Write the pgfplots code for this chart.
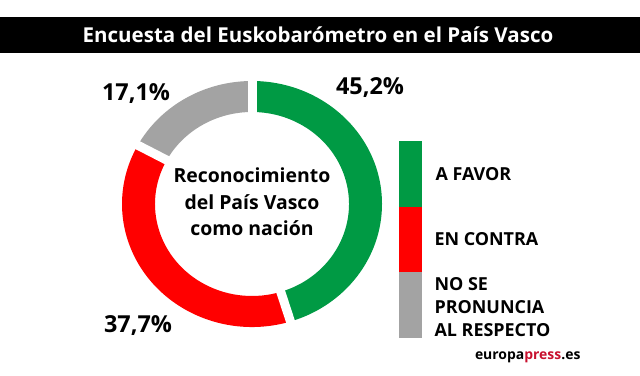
\documentclass[border=0pt]{standalone}
\usepackage{pgfplots}
\pgfplotsset{compat=1.18}
\usepackage{pgfplotstable}
\usepackage{fontspec}
\setmainfont{Open Sans}

\definecolor{cgreen}{RGB}{0,154,68}
\definecolor{cred}{RGB}{255,0,0}
\definecolor{cgray}{RGB}{163,163,163}
\definecolor{logored}{RGB}{200,16,46}

\pgfplotstableread{
label value
favor 45.2
contra 37.7
nose 17.1
}\datatable

\begin{document}
\begin{tikzpicture}
\pgfplotstablegetelem{0}{value}\of\datatable \let\vA\pgfplotsretval
\pgfplotstablegetelem{1}{value}\of\datatable \let\vB\pgfplotsretval
\pgfplotstablegetelem{2}{value}\of\datatable \let\vC\pgfplotsretval
\pgfmathsetmacro{\aA}{90-3.6*\vA}
\pgfmathsetmacro{\aB}{\aA-3.6*\vB}
\pgfmathsetmacro{\aC}{\aB-3.6*\vC}
\begin{axis}[width=640bp, height=375bp, scale only axis,
  xmin=0, xmax=640, ymin=0, ymax=375, hide axis, clip=false]
\path (axis cs:0,0) rectangle (axis cs:640,375);
\fill[black] (axis cs:0,322) rectangle (axis cs:640,358);
\node[white, font=\bfseries\fontsize{20.6}{24}\selectfont] at (axis cs:318,340) {Encuesta del Euskobarómetro en el País Vasco};
% donut
\fill[cgreen] (axis cs:{252+130*cos(90)},{171+123*sin(90)}) arc[start angle=90,end angle=\aA,x radius=130bp,y radius=123bp] -- (axis cs:{252+97*cos(\aA)},{171+92*sin(\aA)}) arc[start angle=\aA,end angle=90,x radius=97bp,y radius=92bp] -- cycle;
\fill[cred] (axis cs:{252+130*cos(\aA)},{171+123*sin(\aA)}) arc[start angle=\aA,end angle=\aB,x radius=130bp,y radius=123bp] -- (axis cs:{252+97*cos(\aB)},{171+92*sin(\aB)}) arc[start angle=\aB,end angle=\aA,x radius=97bp,y radius=92bp] -- cycle;
\fill[cgray] (axis cs:{252+130*cos(\aB)},{171+123*sin(\aB)}) arc[start angle=\aB,end angle=\aC,x radius=130bp,y radius=123bp] -- (axis cs:{252+97*cos(\aC)},{171+92*sin(\aC)}) arc[start angle=\aC,end angle=\aB,x radius=97bp,y radius=92bp] -- cycle;
\draw[white, line width=9bp] (axis cs:252,171) -- (axis cs:{252+140*cos(90)},{171+133*sin(90)});
\draw[white, line width=9bp] (axis cs:252,171) -- (axis cs:{252+140*cos(\aA)},{171+133*sin(\aA)});
\draw[white, line width=9bp] (axis cs:252,171) -- (axis cs:{252+140*cos(\aB)},{171+133*sin(\aB)});
% value labels
\node[font=\bfseries\fontsize{23.5}{27}\selectfont] at (axis cs:370,287) {45,2\%};
\node[font=\bfseries\fontsize{23.5}{27}\selectfont] at (axis cs:136,281) {17,1\%};
\node[font=\bfseries\fontsize{23.5}{27}\selectfont] at (axis cs:138,49) {37,7\%};
% centre text
\node[align=center, font=\bfseries\fontsize{19.5}{26.5}\selectfont] at (axis cs:252,173) {Reconocimiento\\del País Vasco\\como nación};
% legend
\fill[cgreen] (axis cs:399,168) rectangle (axis cs:422,234);
\fill[cred] (axis cs:399,103) rectangle (axis cs:422,168);
\fill[cgray] (axis cs:399,37) rectangle (axis cs:422,103);
\node[anchor=west, font=\bfseries\fontsize{18}{21}\selectfont] at (axis cs:432,201) {A FAVOR};
\node[anchor=west, font=\bfseries\fontsize{18}{21}\selectfont] at (axis cs:431,136) {EN CONTRA};
\node[anchor=west, align=left, font=\bfseries\fontsize{18}{23}\selectfont] at (axis cs:431,68) {NO SE\\PRONUNCIA\\AL RESPECTO};
% logo
\node[anchor=east, font=\bfseries\fontsize{14}{18}\selectfont] at (axis cs:584,18) {europa\textcolor{logored}{press}.es};
\end{axis}
\end{tikzpicture}
\end{document}
